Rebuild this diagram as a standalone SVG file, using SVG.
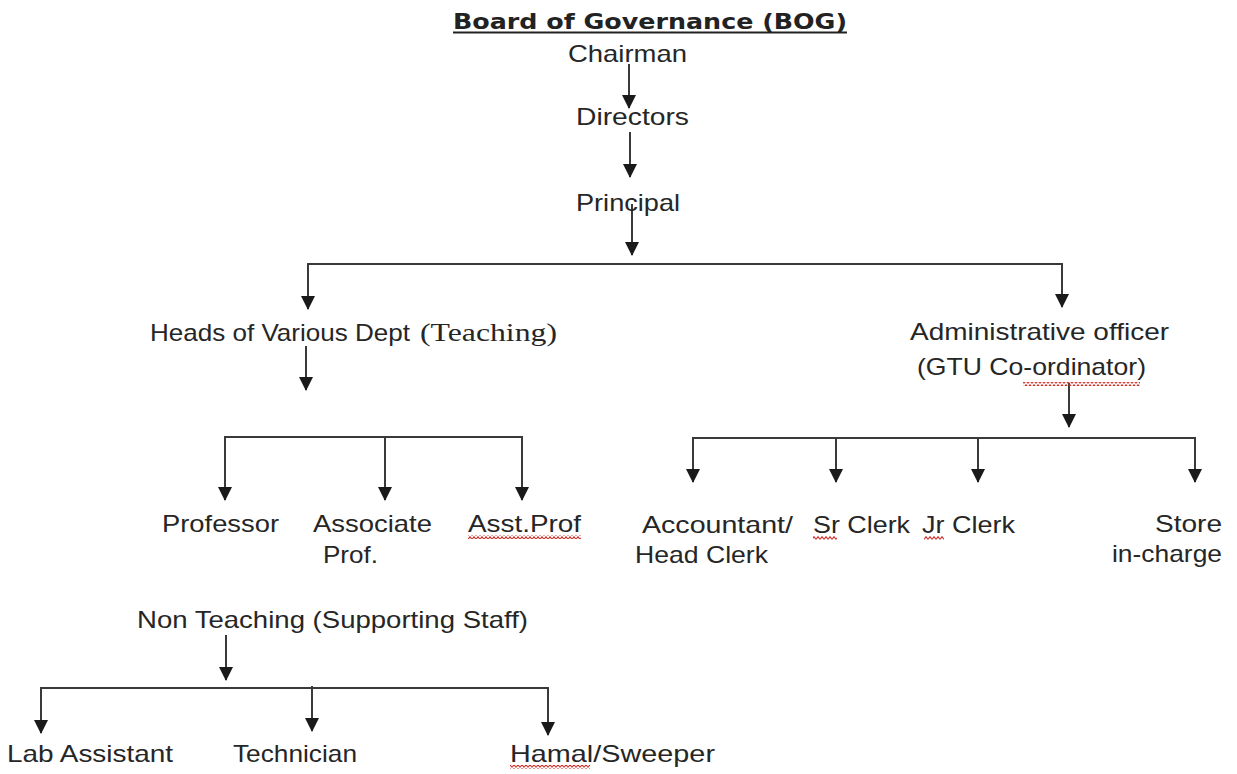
<svg xmlns="http://www.w3.org/2000/svg" width="1237" height="774" viewBox="0 0 1237 774">
<style>
.t{font-family:"Liberation Sans",Arial,sans-serif;fill:#262626;font-size:24px}
.s{font-family:"Liberation Serif","Times New Roman",serif;fill:#262626;font-size:25px}
.title{font-family:"DejaVu Sans",Verdana,sans-serif;font-weight:bold;fill:#222;font-size:22px}
.c{stroke:#3a3a3a;stroke-width:2;fill:none}
.a{marker-end:url(#ah)}
</style>
<defs>
<marker id="ah" viewBox="0 0 14 14" markerWidth="14" markerHeight="14" markerUnits="userSpaceOnUse" refX="13" refY="7" orient="auto">
<path d="M0,0 L14,7 L0,14 z" fill="#1a1a1a"/>
</marker>
<pattern id="wavy" x="0" y="0" width="4" height="4" patternUnits="userSpaceOnUse">
<path d="M0,3.3 L2,0.7 L4,3.3" stroke="#d0302a" stroke-width="1.1" fill="none"/>
</pattern>
</defs>
<rect width="1237" height="774" fill="#fff"/>

<g id="connectors">
<line class="c a" x1="629" y1="64" x2="629" y2="108"/>
<line class="c a" x1="630" y1="132" x2="630" y2="177"/>
<line class="c a" x1="632" y1="204" x2="632" y2="255"/>
<line class="c" x1="307" y1="264" x2="1063" y2="264"/>
<line class="c a" x1="308" y1="264" x2="308" y2="309"/>
<line class="c a" x1="1062" y1="264" x2="1062" y2="307"/>
<line class="c a" x1="306" y1="346" x2="306" y2="390"/>
<line class="c" x1="224" y1="437" x2="523" y2="437"/>
<line class="c a" x1="225" y1="437" x2="225" y2="500"/>
<line class="c a" x1="385" y1="437" x2="385" y2="500"/>
<line class="c a" x1="522" y1="437" x2="522" y2="500"/>
<line class="c a" x1="1069" y1="383" x2="1069" y2="427"/>
<line class="c" x1="692" y1="438" x2="1196" y2="438"/>
<line class="c a" x1="693" y1="438" x2="693" y2="482"/>
<line class="c a" x1="836" y1="438" x2="836" y2="482"/>
<line class="c a" x1="978" y1="438" x2="978" y2="482"/>
<line class="c a" x1="1195" y1="438" x2="1195" y2="482"/>
<line class="c a" x1="226" y1="635" x2="226" y2="680"/>
<line class="c" x1="40" y1="688" x2="549" y2="688"/>
<line class="c a" x1="41" y1="688" x2="41" y2="733"/>
<line class="c a" x1="312" y1="686" x2="312" y2="731"/>
<line class="c a" x1="548" y1="688" x2="548" y2="735"/>
</g>

<g id="title">
<text class="title" x="453" y="29" textLength="394" lengthAdjust="spacingAndGlyphs">Board of Governance (BOG)</text>
<rect x="453" y="31.5" width="394" height="2" fill="#222"/>
</g>
<g id="chairman"><text class="t" x="568" y="62" font-size="25" textLength="119" lengthAdjust="spacingAndGlyphs">Chairman</text></g>
<g id="directors"><text class="t" x="576" y="125" font-size="25" textLength="113" lengthAdjust="spacingAndGlyphs">Directors</text></g>
<g id="principal"><text class="t" x="576" y="211" font-size="25" textLength="104" lengthAdjust="spacingAndGlyphs">Principal</text></g>

<g id="heads">
<text x="150" y="341"><tspan class="t" font-size="23" textLength="260" lengthAdjust="spacingAndGlyphs">Heads of Various Dept</tspan><tspan class="s" x="420" textLength="137" lengthAdjust="spacingAndGlyphs">(Teaching)</tspan></text>
</g>
<g id="professor"><text class="t" x="162" y="532" textLength="117" lengthAdjust="spacingAndGlyphs">Professor</text></g>
<g id="associate">
<text class="t" x="313" y="532" textLength="119" lengthAdjust="spacingAndGlyphs">Associate</text>
<text class="t" x="323" y="563" textLength="55" lengthAdjust="spacingAndGlyphs">Prof.</text>
</g>
<g id="asstprof">
<text class="t" x="468" y="532" textLength="113" lengthAdjust="spacingAndGlyphs">Asst.Prof</text>
<rect x="468" y="535" width="113" height="4" fill="url(#wavy)"/>
</g>

<g id="admin">
<text class="t" x="910" y="340" textLength="259" lengthAdjust="spacingAndGlyphs">Administrative officer</text>
<text class="t" x="917" y="375" textLength="229" lengthAdjust="spacingAndGlyphs">(GTU Co-ordinator)</text>
<rect x="1023" y="382" width="117" height="4" fill="url(#wavy)"/>
</g>
<g id="accountant">
<text class="t" x="642" y="533" textLength="151" lengthAdjust="spacingAndGlyphs">Accountant/</text>
<text class="t" x="635" y="563" textLength="133" lengthAdjust="spacingAndGlyphs">Head Clerk</text>
</g>
<g id="srclerk">
<text class="t" x="813" y="533" textLength="97" lengthAdjust="spacingAndGlyphs">Sr Clerk</text>
<rect x="813" y="536" width="24" height="4" fill="url(#wavy)"/>
</g>
<g id="jrclerk">
<text class="t" x="922" y="533" textLength="93" lengthAdjust="spacingAndGlyphs">Jr Clerk</text>
<rect x="924" y="536" width="20" height="4" fill="url(#wavy)"/>
</g>
<g id="store">
<text class="t" x="1222" y="532" text-anchor="end" textLength="67" lengthAdjust="spacingAndGlyphs">Store</text>
<text class="t" x="1222" y="562" text-anchor="end" textLength="110" lengthAdjust="spacingAndGlyphs">in-charge</text>
</g>

<g id="nonteaching"><text class="t" x="137" y="628" textLength="391" lengthAdjust="spacingAndGlyphs">Non Teaching (Supporting Staff)</text></g>
<g id="labassistant"><text class="t" x="7" y="762" textLength="166" lengthAdjust="spacingAndGlyphs">Lab Assistant</text></g>
<g id="technician"><text class="t" x="233" y="762" textLength="124" lengthAdjust="spacingAndGlyphs">Technician</text></g>
<g id="hamal">
<text class="t" x="510" y="762" textLength="205" lengthAdjust="spacingAndGlyphs">Hamal/Sweeper</text>
<rect x="510" y="765" width="80" height="4" fill="url(#wavy)"/>
</g>
</svg>
